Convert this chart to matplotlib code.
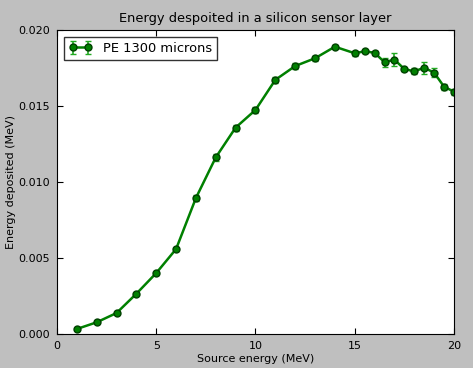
import matplotlib
matplotlib.use('Agg')
import matplotlib.pyplot as plt

# Data
energy = [1, 2, 3, 4, 5, 6, 7, 8, 9, 10, 11, 12, 13, 14, 15, 15.5, 16, 16.5,
          17, 17.5, 18, 18.5, 19, 19.5, 20]
deposited = [0.00033, 0.00077, 0.00138, 0.00265, 0.00401, 0.00559, 0.00895,
             0.01162, 0.01358, 0.01474, 0.01672, 0.01763, 0.01814, 0.01890,
             0.01847, 0.01860, 0.01850, 0.01788, 0.01805, 0.01743, 0.01728,
             0.01752, 0.01719, 0.01627, 0.01594]
errors = [0.00005, 0.00005, 0.00006, 0.00008, 0.0001, 0.0001, 0.00018,
          0.00022, 0.0002, 0.0002, 0.00018, 0.00018, 0.00015, 0.0001,
          0.00015, 0.0001, 0.00015, 0.0003, 0.00045, 0.0001, 0.0002,
          0.0004, 0.0003, 0.0002, 0.0002]

plt.rcParams['xtick.direction'] = 'in'
plt.rcParams['ytick.direction'] = 'in'
plt.rcParams['xtick.top'] = True
plt.rcParams['ytick.right'] = True

fig = plt.figure(figsize=(4.73, 3.68), dpi=100, facecolor='0.75')
ax = fig.add_axes([0.1205, 0.0924, 0.8393, 0.8261])
ax.errorbar(energy, deposited, yerr=errors, fmt='-o', color='g', lw=1.8,
            markersize=5, markeredgecolor='#004000', ecolor='#22aa22',
            capsize=2, elinewidth=1.2, label='PE 1300 microns')
ax.set_xlim(0, 20)
ax.set_ylim(0, 0.020)
ax.set_xticks([0, 5, 10, 15, 20])
ax.set_yticks([0, 0.005, 0.010, 0.015, 0.020])
ax.set_yticklabels(['0.000', '0.005', '0.010', '0.015', '0.020'])
ax.tick_params(labelsize=8, length=4, pad=5)
ax.set_title('Energy despoited in a silicon sensor layer', fontsize=9.4)
ax.set_xlabel('Source energy (MeV)', fontsize=8, labelpad=2)
ax.set_ylabel('Energy deposited (MeV)', fontsize=8, labelpad=2)
leg = ax.legend(loc='upper left', numpoints=2, fancybox=False, fontsize=9.4,
                borderaxespad=0.5, handlelength=1.8)
leg.get_frame().set_edgecolor('black')
fig.savefig('out.png', facecolor=fig.get_facecolor())
